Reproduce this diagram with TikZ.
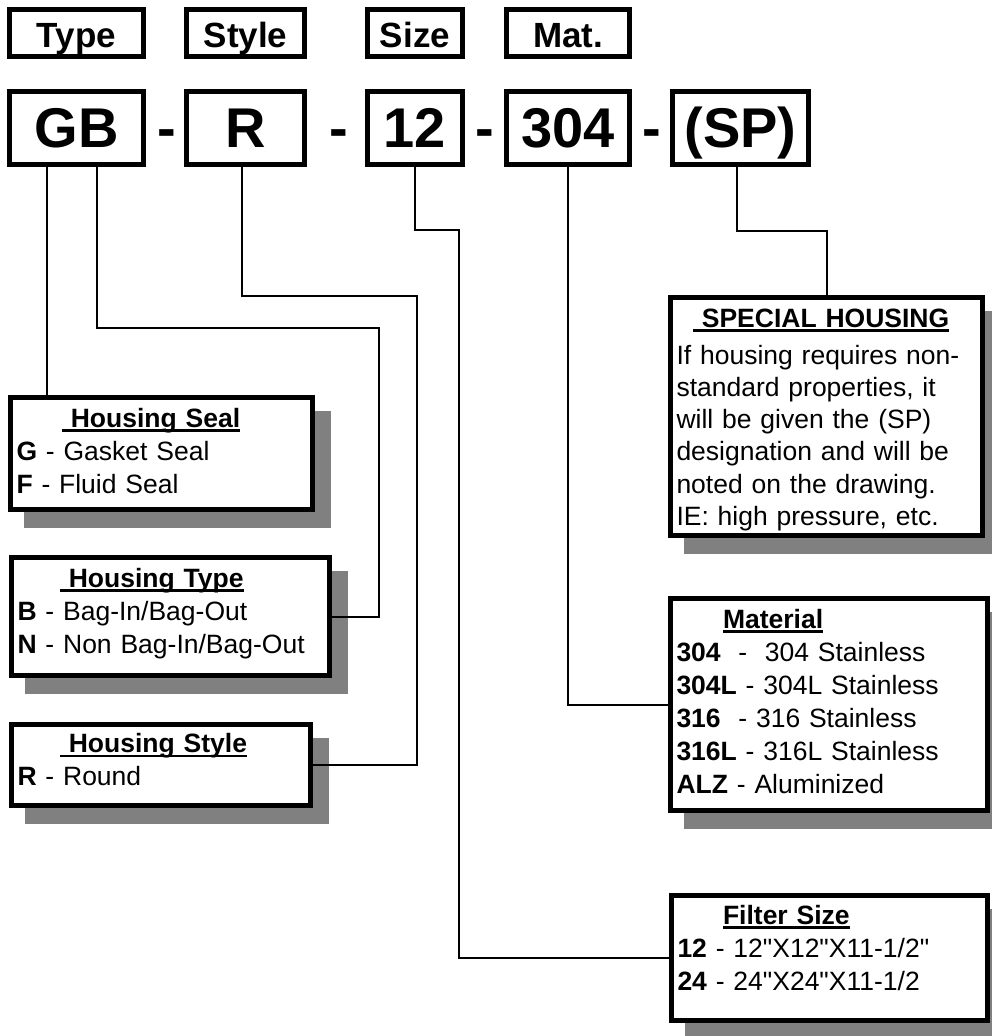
\documentclass[tikz,border=0pt]{standalone}
\usepackage{fontspec}
\setmainfont{Liberation Sans}
\newfontfamily\plainquote{Liberation Sans}
\usetikzlibrary{positioning,backgrounds}

\newsavebox{\titlebox}
\newcommand{\boxtitle}[1]{\sbox{\titlebox}{\bfseries #1}\rlap{\rule[-4.5pt]{\wd\titlebox}{2.5pt}}\usebox{\titlebox}}
\newcommand{\inch}{{\plainquote"}}

\tikzset{
  tagbox/.style={draw, line width=5pt, fill=white, inner sep=0pt, minimum height=47pt,
    text height=28pt, text depth=0pt, font=\fontsize{35}{40}\selectfont\bfseries},
  codebox/.style={draw, line width=5pt, fill=white, inner sep=0pt, minimum height=73pt,
    text height=38pt, text depth=0pt, font=\fontsize{56}{60}\selectfont\bfseries},
  dashsign/.style={anchor=base, inner sep=0pt, font=\fontsize{56}{60}\selectfont\bfseries},
  infobox/.style={draw, line width=5pt, fill=white, anchor=north west, inner xsep=6pt,
    inner ysep=0pt, align=left, font=\fontsize{26.5}{33}\selectfont},
  link/.style={line width=2pt},
}

\begin{document}
\begin{tikzpicture}[x=1pt, y=-1pt]
  \useasboundingbox (0,0) rectangle (992,1036);

  % field names
  \node[tagbox, minimum width=134pt] (typetag) at (76.5,33) {Type};
  \node[tagbox, minimum width=118pt, right=38pt of typetag] (styletag) {Style};
  \node[tagbox, minimum width=95pt, right=58pt of styletag] (sizetag) {Size};
  \node[tagbox, minimum width=123pt, right=39pt of sizetag] (mattag) {Mat.};

  % part number
  \node[codebox, minimum width=134pt, below=30pt of typetag] (codetype) {GB};
  \node[codebox, minimum width=118pt, below=30pt of styletag] (codestyle) {R};
  \node[codebox, minimum width=95pt, below=30pt of sizetag] (codesize) {12};
  \node[codebox, minimum width=123pt, below=30pt of mattag] (codemat) {304};
  \node[codebox, minimum width=136pt, right=38pt of codemat] (codesp) {(SP)};

  \foreach \x [count=\i] in {166.5,338.5,485,651.5}
    \node[dashsign] (dash\i) at (\x,147) {-};

  % legends
  \node[infobox, text width=290pt, text height=29.5pt, text depth=82.5pt] (seal) at (8,395)
    {\hspace*{45.5pt}\boxtitle{\ Housing Seal}\\ \textbf{G} - Gasket Seal\\ \textbf{F} - Fluid Seal};
  \node[infobox, text width=306pt, text height=29.5pt, text depth=88.5pt] (htype) at (9,555)
    {\hspace*{42.5pt}\boxtitle{\ Housing Type}\\ \textbf{B} - Bag-In/Bag-Out\\ \textbf{N} - Non Bag-In/Bag-Out};
  \node[infobox, text width=287pt, text height=28pt, text depth=53pt] (hstyle) at (9,722)
    {\hspace*{42.5pt}\boxtitle{\ Housing Style}\\ \textbf{R} - Round};
  \node[infobox, text width=300pt, text height=29.5pt, text depth=208.5pt,
    font=\fontsize{26.5}{32.3}\selectfont] (special) at (668,295)
    {\hspace*{16.5pt}\boxtitle{\ SPECIAL HOUSING}\\[4.7pt] If housing requires non-\\
     standard properties, it\\ will be given the (SP)\\ designation and will be\\
     noted on the drawing.\\ IE: high pressure, etc.};
  \node[infobox, text width=305pt, text height=29.5pt, text depth=182.5pt] (material) at (668,596)
    {\hspace*{46.5pt}\boxtitle{Material}\\ \textbf{304}\ \ -\ \ 304 Stainless\\
     \textbf{304L} - 304L Stainless\\ \textbf{316}\ \ - 316 Stainless\\
     \textbf{316L} - 316L Stainless\\ \textbf{ALZ} - Aluminized};
  \node[infobox, text width=304pt, text height=28.5pt, text depth=96.5pt] (fsize) at (669,893)
    {\hspace*{45.5pt}\boxtitle{Filter Size}\\ \textbf{12} - 12\inch X12\inch X11-1/2\inch\\ \textbf{24} - 24\inch X24\inch X11-1/2};

  \begin{scope}[on background layer]
    \foreach \b in {seal,htype,hstyle,special,material,fsize}
      \fill[gray] ([shift={(16pt,-16pt)}]\b.north west) rectangle ([shift={(16pt,-16pt)}]\b.south east);
  \end{scope}

  % leader lines
  \coordinate (typebend) at (379,328);
  \coordinate (stylebend) at (417,296);
  \coordinate (sizebend) at (459,230);
  \coordinate (spbend) at (826.5,231);

  \draw[link] ([xshift=-29.5pt]codetype.south) -- ([xshift=-29.5pt]codetype.south |- seal.north);
  \draw[link] ([xshift=20.5pt]codetype.south) |- (typebend) |- (htype.east);
  \draw[link] ([xshift=-3.5pt]codestyle.south) |- (stylebend) |- (hstyle.east);
  \draw[link] (codesize.south) |- (sizebend) |- (fsize.west);
  \draw[link] (codemat.south) |- (material.west);
  \draw[link] ([xshift=-3.5pt]codesp.south) |- (spbend) -- (special.north);
\end{tikzpicture}
\end{document}
